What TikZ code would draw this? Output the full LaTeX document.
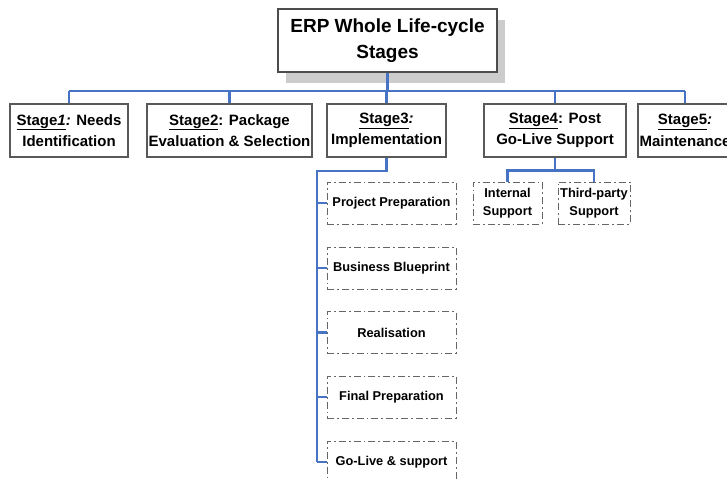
\documentclass[tikz,border=0pt]{standalone}
\usepackage{fontspec}
\setmainfont{Liberation Sans}
\usetikzlibrary{shadows}
\definecolor{linkblue}{RGB}{70,115,195}
\begin{document}
\begin{tikzpicture}[x=1pt, y=-1pt,
	link/.style={draw=linkblue, line width=2.2pt},
	stagebox/.style={draw=black!65, line width=1.2pt, fill=white, minimum height=53pt, inner sep=0pt, align=center, font=\bfseries\fontsize{15}{21.5}\selectfont},
	substep/.style={draw=black!60, line width=1pt, dash pattern=on 7pt off 3pt on 1.8pt off 3pt, minimum height=42pt, inner sep=0pt, align=center, font=\bfseries\fontsize{12.8}{18.5}\selectfont}]
	\clip (0,0) rectangle (727,481);
	
	\node[draw=black!70, line width=2pt, fill=white, minimum width=219pt, minimum height=63pt, align=center, font=\bfseries\fontsize{19}{25.5}\selectfont,
		drop shadow={shadow xshift=8pt, shadow yshift=-11pt, fill=black!20, opacity=1}] (title) at (387.5,40.5) {ERP Whole Life-cycle\\Stages};
	
	\node[stagebox, minimum width=118pt] (s1) at (69,130.5) {\underline{Stage\textit{1}}\textit{:} Needs\\Identification};
	\node[stagebox, minimum width=165pt] (s2) at (229.5,130.5) {\underline{Stage2}: Package\\Evaluation \& Selection};
	\node[stagebox, minimum width=119pt] (s3) at (386.5,130.5) {\underline{Stage3}\textit{:}\\Implementation};
	\node[stagebox, minimum width=142pt] (s4) at (555,130.5) {\underline{Stage4}: Post\\Go-Live Support};
	\node[stagebox, minimum width=94pt] (s5) at (685,130.5) {\underline{Stage5}\textit{:}\\Maintenance};
	
	\coordinate (bus) at (0,91);
	\draw[link] (title.south) -- (title.south |- bus);
	\draw[link] (s1.north |- bus) -- (s5.north |- bus);
	\foreach \s in {s1,s2,s3,s4,s5}
	{
		\draw[link] (\s.north) -- (\s.north |- bus);
	}
	
	% implementation steps
	\coordinate (rail) at (317,171);
	\foreach \n/\y/\t in {p1/203/Project Preparation, p2/268/Business Blueprint, p3/332.5/Realisation, p4/397/Final Preparation, p5/462/Go-Live \& support}
	{
		\node[substep, minimum width=129pt] (\n) at (391.5,\y) {\t};
		\draw[link] (\n.west -| rail) -- (\n.west);
	}
	\draw[link] (s3.south) |- (rail) -- (rail |- p5.west);
	
	% post go-live support
	\node[substep, minimum width=69pt] (int) at (507.5,203) {Internal\\Support};
	\node[substep, minimum width=72pt] (third) at (594,203) {Third-party\\Support};
	\draw[link] (s4.south) -- ++(0,14);
	\draw[link] (int.north) -- ++(0,-11) -| (third.north);
\end{tikzpicture}
\end{document}
